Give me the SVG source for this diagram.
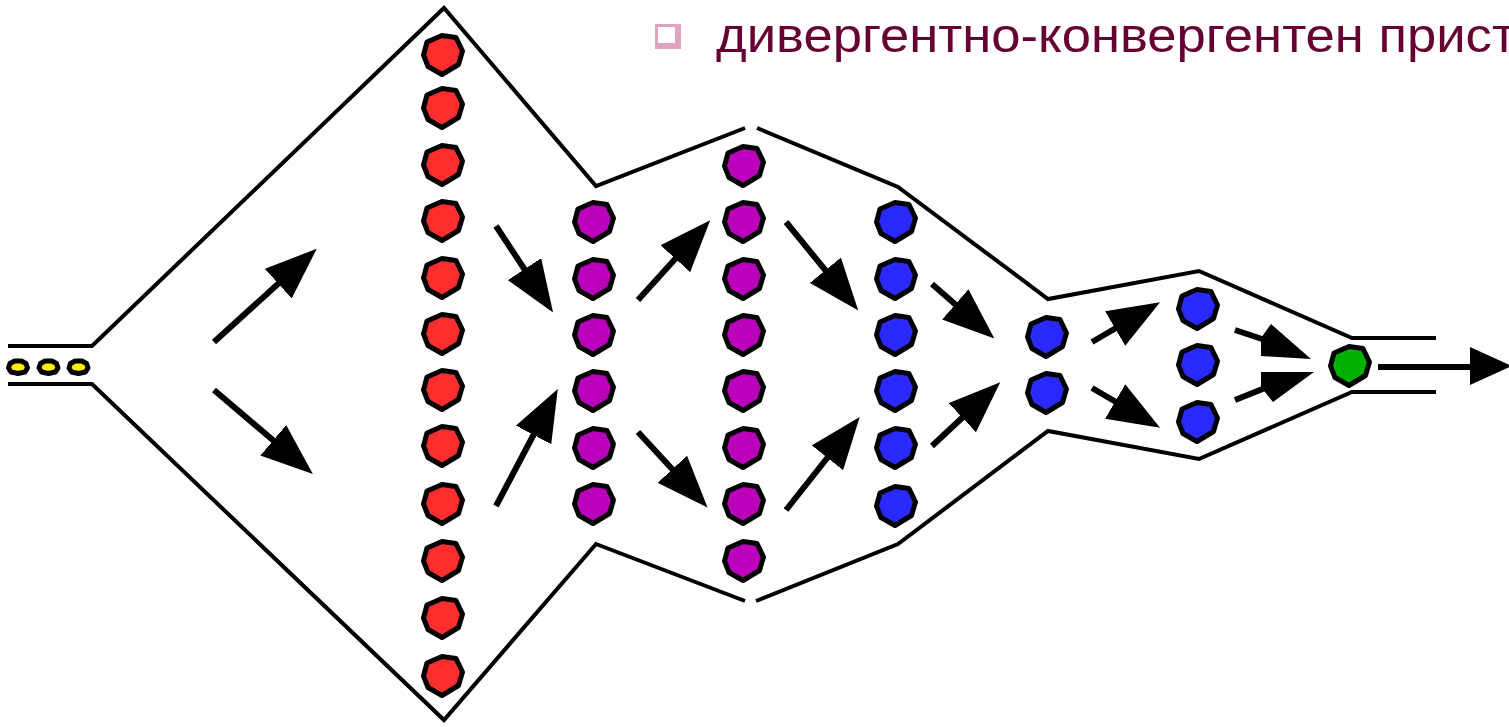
<svg xmlns="http://www.w3.org/2000/svg" xmlns:xlink="http://www.w3.org/1999/xlink" width="1509" height="727" viewBox="0 0 1509 727">
<style>
.ol{fill:none;stroke:#000;stroke-width:4;stroke-linejoin:miter}
.ar{stroke:#000;stroke-width:6;fill:none}
.hd{fill:#000}
.n{stroke:#000;stroke-width:5;stroke-linejoin:round}
.red{fill:#ff2e2e}.pur{fill:#bb00bb}.blu{fill:#2a2aff}.grn{fill:#00b000}.yel{fill:#ffee00}
.title{font-family:"Liberation Sans",Arial,sans-serif;font-size:49px;fill:#660033}
</style>
<defs>
<polygon id="oct" points="-1,-19.5 -16,-13 -19.5,0 -15,11.5 -1,19.5 15.5,9.5 19.5,-4 13,-17.5"/>
<polygon id="ys" points="-3.5,-6 -8,-3.5 -9.5,1 -7,5 0,6.5 7,5 9.5,1 8,-3.5 3.5,-6"/>
<marker id="ah" markerUnits="userSpaceOnUse" markerWidth="52" markerHeight="40" viewBox="0 0 52 40" refX="1" refY="20" orient="auto"><path d="M0,0 L52,20 L0,40 z" fill="#000"/></marker>
</defs>
<rect width="1509" height="727" fill="#fff"/>
<g id="title">
<rect x="655" y="24" width="26" height="25" fill="#e2a2c4"/>
<rect x="658" y="27" width="17" height="16" fill="#fff"/>
<text class="title" x="716" y="52" textLength="800" lengthAdjust="spacingAndGlyphs">дивергентно-конвергентен прист</text>
</g>
<g id="outline">
<polyline class="ol" points="8,346 92,346 444,8 596,186 745,128"/>
<polyline class="ol" points="757,128 898,187 1048,299 1199,271 1352,338 1436,338"/>
<polyline class="ol" points="8,384 92,384 444,720 596,544 745,601"/>
<polyline class="ol" points="756,601 898,544 1048,431 1199,459 1352,392 1436,392"/>
</g>
<g id="connectors">
<line class="ar" x1="214" y1="342" x2="279" y2="283" marker-end="url(#ah)"/>
<line class="ar" x1="214" y1="390" x2="274" y2="441" marker-end="url(#ah)"/>
<line class="ar" x1="496" y1="226" x2="525" y2="270" marker-end="url(#ah)"/>
<line class="ar" x1="496" y1="506" x2="534" y2="434" marker-end="url(#ah)"/>
<line class="ar" x1="638" y1="300" x2="676" y2="258" marker-end="url(#ah)"/>
<line class="ar" x1="638" y1="432" x2="673" y2="470" marker-end="url(#ah)"/>
<line class="ar" x1="786" y1="222" x2="826" y2="271" marker-end="url(#ah)"/>
<line class="ar" x1="786" y1="510" x2="828" y2="457" marker-end="url(#ah)"/>
<line class="ar" x1="932" y1="284" x2="956" y2="305" marker-end="url(#ah)"/>
<line class="ar" x1="932" y1="446" x2="963" y2="417" marker-end="url(#ah)"/>
<line class="ar" x1="1092" y1="342" x2="1116" y2="328" marker-end="url(#ah)"/>
<line class="ar" x1="1092" y1="388" x2="1116" y2="402" marker-end="url(#ah)"/>
<line class="ar" x1="1235" y1="330" x2="1265" y2="340"/>
<polygon class="hd" points="1271,324 1261,338 1261,356 1311,359"/>
<line class="ar" x1="1235" y1="400" x2="1265" y2="388"/>
<polygon class="hd" points="1261,372 1314,372 1273,402 1261,387"/>
<line class="ar" x1="1378" y1="367" x2="1472" y2="367"/>
<polygon class="hd" points="1470,347 1512,366 1470,385"/>
</g>
<g id="y1"><use href="#ys" class="n yel" x="18" y="367" stroke-width="3"/></g>
<g id="y2"><use href="#ys" class="n yel" x="48.5" y="367" stroke-width="3"/></g>
<g id="y3"><use href="#ys" class="n yel" x="78.5" y="367" stroke-width="3"/></g>
<g id="r1"><use href="#oct" class="n red" x="443" y="55"/></g>
<g id="r2"><use href="#oct" class="n red" x="443" y="108"/></g>
<g id="r3"><use href="#oct" class="n red" x="443" y="165"/></g>
<g id="r4"><use href="#oct" class="n red" x="443" y="221"/></g>
<g id="r5"><use href="#oct" class="n red" x="443" y="278"/></g>
<g id="r6"><use href="#oct" class="n red" x="443" y="334"/></g>
<g id="r7"><use href="#oct" class="n red" x="443" y="390"/></g>
<g id="r8"><use href="#oct" class="n red" x="443" y="446"/></g>
<g id="r9"><use href="#oct" class="n red" x="443" y="504"/></g>
<g id="r10"><use href="#oct" class="n red" x="443" y="561"/></g>
<g id="r11"><use href="#oct" class="n red" x="443" y="618"/></g>
<g id="r12"><use href="#oct" class="n red" x="443" y="676"/></g>
<g id="p1"><use href="#oct" class="n pur" x="594" y="222"/></g>
<g id="p2"><use href="#oct" class="n pur" x="594" y="279"/></g>
<g id="p3"><use href="#oct" class="n pur" x="594" y="335"/></g>
<g id="p4"><use href="#oct" class="n pur" x="594" y="391"/></g>
<g id="p5"><use href="#oct" class="n pur" x="594" y="448"/></g>
<g id="p6"><use href="#oct" class="n pur" x="594" y="504"/></g>
<g id="q1"><use href="#oct" class="n pur" x="744" y="166"/></g>
<g id="q2"><use href="#oct" class="n pur" x="744" y="222"/></g>
<g id="q3"><use href="#oct" class="n pur" x="744" y="279"/></g>
<g id="q4"><use href="#oct" class="n pur" x="744" y="335"/></g>
<g id="q5"><use href="#oct" class="n pur" x="744" y="391"/></g>
<g id="q6"><use href="#oct" class="n pur" x="744" y="448"/></g>
<g id="q7"><use href="#oct" class="n pur" x="744" y="504"/></g>
<g id="q8"><use href="#oct" class="n pur" x="744" y="561"/></g>
<g id="b1"><use href="#oct" class="n blu" x="896" y="222"/></g>
<g id="b2"><use href="#oct" class="n blu" x="896" y="279"/></g>
<g id="b3"><use href="#oct" class="n blu" x="896" y="335"/></g>
<g id="b4"><use href="#oct" class="n blu" x="896" y="391"/></g>
<g id="b5"><use href="#oct" class="n blu" x="896" y="448"/></g>
<g id="b6"><use href="#oct" class="n blu" x="896" y="506"/></g>
<g id="c1"><use href="#oct" class="n blu" x="1047" y="337"/></g>
<g id="c2"><use href="#oct" class="n blu" x="1047" y="393"/></g>
<g id="d1"><use href="#oct" class="n blu" x="1198" y="309"/></g>
<g id="d2"><use href="#oct" class="n blu" x="1198" y="365"/></g>
<g id="d3"><use href="#oct" class="n blu" x="1198" y="422"/></g>
<g id="g1"><use href="#oct" class="n grn" x="1350" y="366"/></g>
</svg>
